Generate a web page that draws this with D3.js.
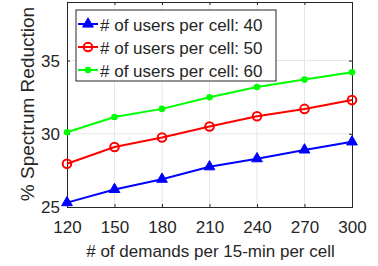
<!DOCTYPE html>
<html><head><meta charset="utf-8">
<script src="https://cdn.jsdelivr.net/npm/d3@7"></script>
<style>body{margin:0;background:#fff}svg{display:block}text{font-family:"Liberation Sans",Arial,sans-serif;fill:#262626}</style>
</head><body><svg id="c" width="378" height="266"></svg>
<script>
const xCats = [120,150,180,210,240,270,300];
const yTicks = [25,30,35];
const seriesNames = ["# of users per cell: 40","# of users per cell: 50","# of users per cell: 60"];
const users40 = [25.3,26.2,26.9,27.75,28.3,28.9,29.45];
const users50 = [27.95,29.1,29.75,30.5,31.2,31.7,32.3];
const users60 = [30.1,31.15,31.7,32.5,33.2,33.7,34.2];
const colors = ["#0000ff","#ff0000","#00ff00"];
const markers = ["triangle","circleOpen","dot"];

const svg = d3.select("#c");
const L=67,R=352,T=2,B=207;
const x = d3.scaleLinear().domain([120,300]).range([L,R]);
const y = d3.scaleLinear().domain([25,39]).range([B,T]);

// grid
svg.append("g").selectAll("line").data(xCats.slice(1,-1)).join("line")
 .attr("x1",d=>x(d)).attr("x2",d=>x(d)).attr("y1",T).attr("y2",B)
 .attr("stroke","#e6e6e6").attr("stroke-width",1);
svg.append("g").selectAll("line").data(yTicks.slice(1)).join("line")
 .attr("x1",L).attr("x2",R).attr("y1",d=>y(d)).attr("y2",d=>y(d))
 .attr("stroke","#e6e6e6").attr("stroke-width",1);

// axes
const xa = svg.append("g").attr("transform",`translate(0,${B})`)
 .call(d3.axisBottom(x).tickValues(xCats).tickSize(-3).tickPadding(14).tickFormat(d3.format("d")));
const ya = svg.append("g").attr("transform",`translate(${L},0)`)
 .call(d3.axisLeft(y).tickValues(yTicks).tickSize(-3).tickPadding(7));
const xt = svg.append("g").attr("transform",`translate(0,${T})`)
 .call(d3.axisTop(x).tickValues(xCats).tickSize(-3).tickFormat(""));
const yr = svg.append("g").attr("transform",`translate(${R},0)`)
 .call(d3.axisRight(y).tickValues(yTicks).tickSize(-3).tickFormat(""));
[xa,ya,xt,yr].forEach(g=>{g.selectAll("path").attr("stroke","#262626").attr("stroke-width",1);
 g.selectAll("line").attr("stroke","#262626");
 g.selectAll("text").attr("font-size",17).attr("fill","#262626").attr("font-family","Liberation Sans, Arial, sans-serif");});

// series
const data=[users40,users50,users60];
const line=d3.line().x((d,i)=>x(xCats[i])).y(d=>y(d));
function drawMarker(g,type,cx,cy,col){
  if(type==="triangle") g.append("path").attr("d",d3.symbol(d3.symbolTriangle,50)()).attr("transform",`translate(${cx},${cy})`).attr("fill",col).attr("stroke",col).attr("stroke-width",1);
  else if(type==="circleOpen") g.append("circle").attr("cx",cx).attr("cy",cy).attr("r",4.3).attr("fill","none").attr("stroke",col).attr("stroke-width",2);
  else g.append("circle").attr("cx",cx).attr("cy",cy).attr("r",3.3).attr("fill",col);
}
data.forEach((s,k)=>{
  const g=svg.append("g");
  g.append("path").datum(s).attr("d",line).attr("fill","none").attr("stroke",colors[k]).attr("stroke-width",2);
  s.forEach((v,i)=>drawMarker(g,markers[k],x(xCats[i]),y(v),colors[k]));
});

// legend
const lg=svg.append("g");
lg.append("rect").attr("x",76).attr("y",10).attr("width",200).attr("height",71).attr("fill","#fff").attr("stroke","#262626").attr("stroke-width",1);
seriesNames.forEach((n,k)=>{
  const cy=24+k*23;
  lg.append("line").attr("x1",78).attr("x2",98).attr("y1",cy).attr("y2",cy).attr("stroke",colors[k]).attr("stroke-width",2);
  drawMarker(lg,markers[k],88,cy,colors[k]);
  lg.append("text").attr("x",100).attr("y",cy+6.5).attr("font-size",17).text(n);
});

// labels
svg.append("text").attr("x",(L+R)/2+1).attr("y",257).attr("text-anchor","middle").attr("font-size",17).text("# of demands per 15-min per cell");
svg.append("text").attr("transform",`translate(34,${104}) rotate(-90)`).attr("text-anchor","middle").attr("font-size",19).text("% Spectrum Reduction");
</script></body></html>
